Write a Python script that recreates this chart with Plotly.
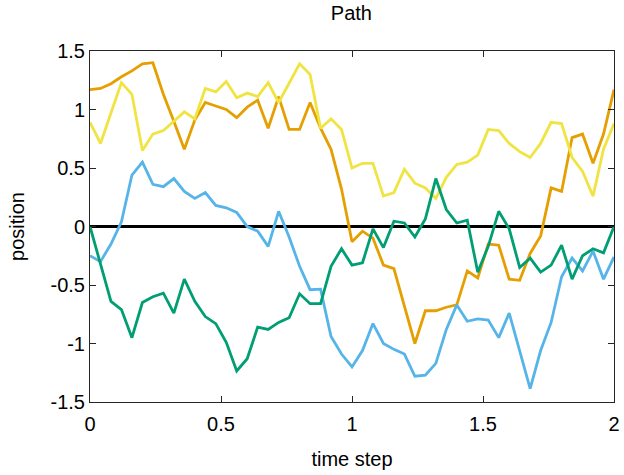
import plotly.graph_objects as go

t = [round(0.04 * i, 2) for i in range(51)]

orange = [1.17, 1.18, 1.22, 1.28, 1.33, 1.39, 1.40, 1.13, 0.90, 0.66,
          0.91, 1.06, 1.03, 1.00, 0.93, 1.02, 1.08, 0.84, 1.11, 0.83,
          0.83, 1.06, 0.84, 0.66, 0.32, -0.13, -0.04, -0.10, -0.33, -0.36,
          -0.68, -1.00, -0.72, -0.72, -0.69, -0.67, -0.38, -0.44, -0.15, -0.16,
          -0.45, -0.46, -0.23, -0.08, 0.33, 0.30, 0.76, 0.79, 0.54, 0.79, 1.17]

yellow = [0.89, 0.71, 0.97, 1.23, 1.13, 0.65, 0.79, 0.82, 0.90, 0.98,
          0.92, 1.18, 1.15, 1.24, 1.10, 1.14, 1.11, 1.23, 1.06, 1.23,
          1.39, 1.30, 0.84, 0.92, 0.83, 0.50, 0.54, 0.54, 0.26, 0.29,
          0.49, 0.37, 0.33, 0.24, 0.42, 0.53, 0.55, 0.61, 0.83, 0.82,
          0.71, 0.64, 0.59, 0.71, 0.89, 0.88, 0.59, 0.47, 0.26, 0.66, 0.88]

blue = [-0.25, -0.30, -0.15, 0.04, 0.44, 0.55, 0.36, 0.34, 0.41, 0.30,
        0.24, 0.29, 0.18, 0.16, 0.12, 0.00, -0.04, -0.17, 0.13, -0.09,
        -0.34, -0.54, -0.535, -0.94, -1.09, -1.20, -1.06, -0.83, -1.00, -1.05,
        -1.09, -1.28, -1.27, -1.17, -0.88, -0.67, -0.81, -0.79, -0.80, -0.95,
        -0.74, -1.06, -1.385, -1.06, -0.82, -0.43, -0.27, -0.38, -0.21, -0.45, -0.26]

green = [0.00, -0.31, -0.64, -0.71, -0.95, -0.65, -0.60, -0.57, -0.74, -0.45,
         -0.64, -0.77, -0.83, -0.99, -1.235, -1.13, -0.86, -0.88, -0.82, -0.78,
         -0.575, -0.66, -0.66, -0.34, -0.19, -0.33, -0.31, -0.02, -0.18, 0.045,
         0.03, -0.09, 0.065, 0.41, 0.145, 0.03, 0.054, -0.39, -0.17, 0.13,
         -0.02, -0.35, -0.27, -0.39, -0.33, -0.16, -0.45, -0.25, -0.19, -0.225, 0.00]

xtick_vals = [0, 0.5, 1, 1.5, 2]
xtick_text = ["0", "0.5", "1", "1.5", "2"]
ytick_vals = [-1.5, -1, -0.5, 0, 0.5, 1, 1.5]
ytick_text = ["-1.5", "-1", "-0.5", "0", "0.5", "1", "1.5"]

series = [
    (orange, "#E69F00"),
    (yellow, "#F0E442"),
    (blue, "#56B4E9"),
    (green, "#009E73"),
]

fig = go.Figure()
fig.add_trace(go.Scatter(x=[0, 2], y=[0, 0], mode="lines",
                         line=dict(color="black", width=2.8), showlegend=False,
                         hoverinfo="skip"))
for ys, col in series:
    fig.add_trace(go.Scatter(x=t, y=ys, mode="lines",
                             line=dict(color=col, width=2.8), showlegend=False))

font = "Liberation Sans, Arial, Helvetica, sans-serif"
axis_common = dict(showgrid=False, zeroline=False, showline=True, linecolor="#262626",
                   linewidth=1, mirror="ticks", ticks="inside", ticklen=6,
                   tickcolor="#262626", tickwidth=1, automargin=False,
                   tickfont=dict(family=font, size=20, color="black"))

fig.update_layout(
    width=624, height=475,
    margin=dict(l=90, r=10, t=51, b=73),
    paper_bgcolor="white", plot_bgcolor="white",
    title=dict(text="Path", x=0.5632, xanchor="center", y=0.9726, yanchor="middle",
               font=dict(family=font, size=20, color="black"), automargin=False),
    xaxis=dict(range=[0, 2], tickvals=xtick_vals, ticktext=xtick_text,
               ticklabelstandoff=4,
               title=dict(text="time step", font=dict(family=font, size=20, color="black"),
                          standoff=17),
               **axis_common),
    yaxis=dict(range=[-1.5, 1.5], tickvals=ytick_vals, ticktext=ytick_text,
               title=dict(text="position", font=dict(family=font, size=20, color="black"),
                          standoff=20),
               **axis_common),
)

fig.write_html("out.html")
